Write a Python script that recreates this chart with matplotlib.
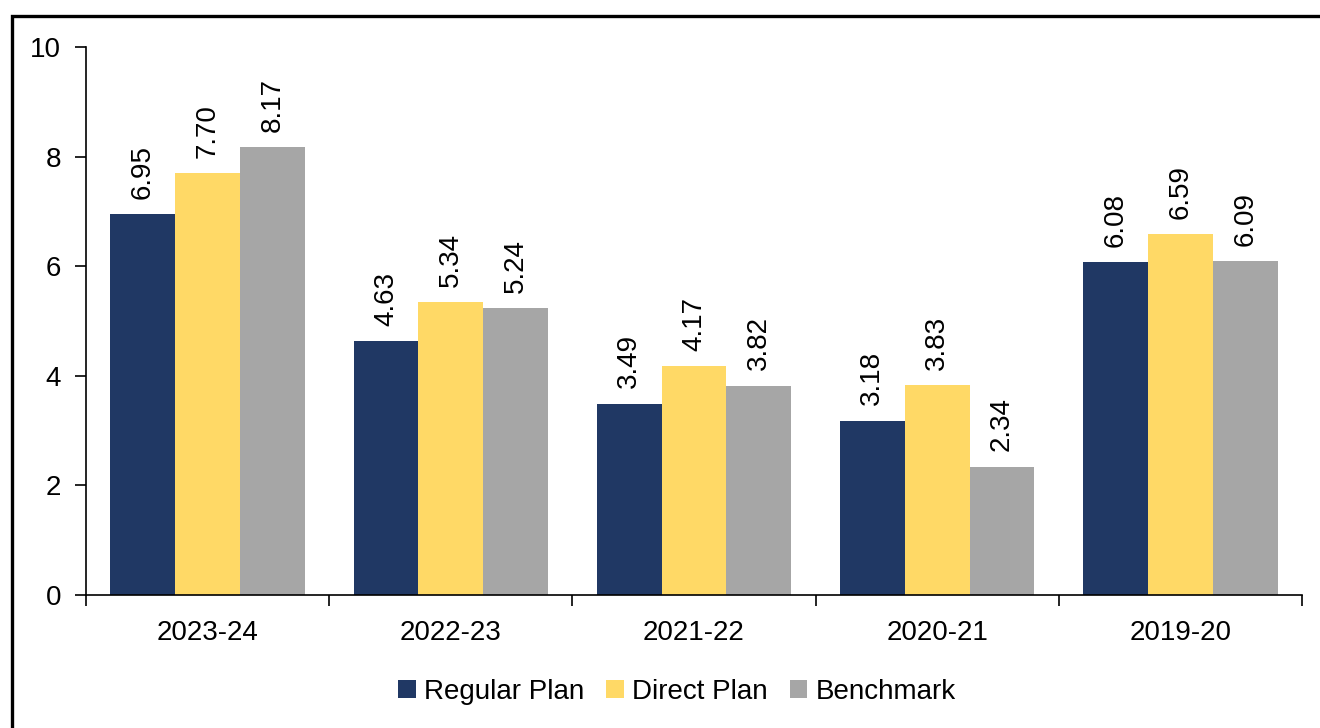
import matplotlib.pyplot as plt
import numpy as np
from matplotlib.patches import Rectangle

years = ['2023-24', '2022-23', '2021-22', '2020-21', '2019-20']
regular = [6.95, 4.63, 3.49, 3.18, 6.08]
direct = [7.70, 5.34, 4.17, 3.83, 6.59]
benchmark = [8.17, 5.24, 3.82, 2.34, 6.09]
series_names = ['Regular Plan', 'Direct Plan', 'Benchmark']
colors = ['#203864', '#FFD966', '#A6A6A6']

plt.rcParams['font.family'] = ['Liberation Sans', 'DejaVu Sans']


def main():
    fig = plt.figure(figsize=(13.2, 7.28), dpi=100)
    ax = fig.add_axes([86 / 1320, 1 - 595 / 728, 1216 / 1320, 548 / 728])

    x = np.arange(len(years))
    w = 0.8 / 3
    for i, (vals, name) in enumerate(zip([regular, direct, benchmark], series_names)):
        bars = ax.bar(x + (i - 1) * w, vals, w, color=colors[i], label=name)
        ax.bar_label(bars, labels=[f'{v:.2f}' for v in vals], rotation=90,
                     padding=11, fontsize=20)

    ax.set_xlim(-0.5, len(years) - 0.5)
    ax.set_ylim(0, 10)
    ax.set_yticks(range(0, 11, 2))
    ax.set_xticks(x)
    ax.set_xticklabels(years)
    ax.set_xticks(np.arange(-0.5, len(years)), minor=True)
    ax.tick_params(axis='x', which='major', length=0, pad=18, labelsize=20)
    ax.tick_params(axis='x', which='minor', length=8, width=1.2, direction='out')
    ax.tick_params(axis='y', length=8, width=1.2, labelsize=20, pad=10)
    for s in ['top', 'right']:
        ax.spines[s].set_visible(False)
    for s in ['left', 'bottom']:
        ax.spines[s].set_linewidth(1.2)

    fig.legend(loc='center', bbox_to_anchor=(677 / 1320, 1 - 692 / 728), ncol=3,
               frameon=False, fontsize=20, handlelength=0.62, handleheight=0.62,
               handletextpad=0.3, columnspacing=0.8)

    fig.patches.append(Rectangle((12 / 1320, -0.1), 1.2, 1 - 16 / 728 + 0.1,
                                 transform=fig.transFigure, fill=False,
                                 edgecolor='black', linewidth=2.4))

    fig.savefig('out.png', dpi=100)


if __name__ == '__main__':
    main()
